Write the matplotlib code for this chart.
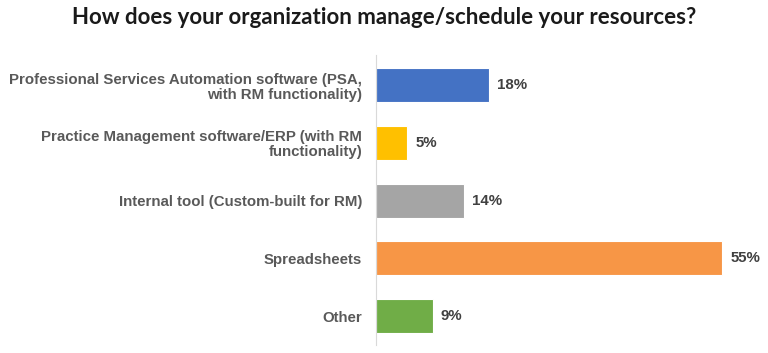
import matplotlib.pyplot as plt

categories = [
    "Professional Services Automation software (PSA,\nwith RM functionality)",
    "Practice Management software/ERP (with RM\nfunctionality)",
    "Internal tool (Custom-built for RM)",
    "Spreadsheets",
    "Other",
]
values = [18, 5, 14, 55, 9]
colors = ["#4472C4", "#FFC000", "#A5A5A5", "#F79646", "#70AD47"]

fig = plt.figure(figsize=(7.68, 3.53), dpi=100)
ax = fig.add_axes([376 / 768, 8 / 353, (760 - 376) / 768, (345 - 55) / 353])

ypos = list(range(len(categories) - 1, -1, -1))
ax.barh(ypos, values, height=0.59, color=colors, edgecolor="white", linewidth=0.8)

for y, v in zip(ypos, values):
    ax.text(v + 1.3, y, f"{v}%", va="center", ha="left", fontsize=10.8,
            fontweight="bold", color="#404040", family="Liberation Sans")

ax.set_yticks(ypos)
ax.set_yticklabels(categories, fontsize=10.8, fontweight="bold", color="#595959",
                   family="Liberation Sans", ha="right", multialignment="right",
                   linespacing=1.1)
ax.tick_params(axis="y", length=0, pad=10)
ax.set_xticks([])
ax.set_xlim(0, 61)
ax.set_ylim(-0.5, 4.52)
for side in ["top", "right", "bottom"]:
    ax.spines[side].set_visible(False)
ax.spines["left"].set_color("#D9D9D9")

fig.text(0.5, 1 - 18 / 353, "How does your organization manage/schedule your resources?",
         ha="center", va="center", fontsize=16, fontweight="bold", color="#1a1a1a",
         family="Lato")

fig.savefig("out.png", dpi=100)
